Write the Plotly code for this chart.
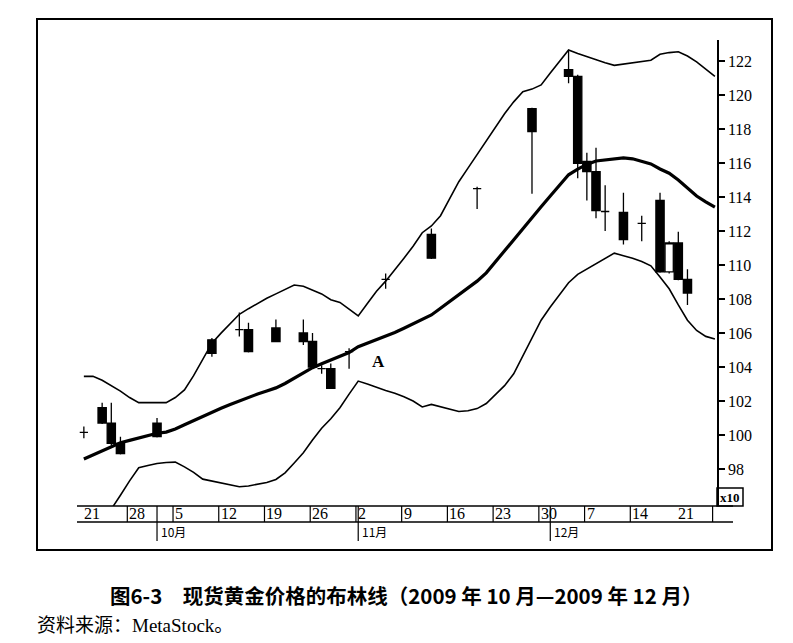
import plotly.graph_objects as go

# ---- data (trading-day index 0 = 2009-09-21) ----
days = list(range(70))

upper_band = [103.45, 103.45, 103.22, 102.9, 102.58, 102.2, 101.9, 101.9, 101.9, 101.9,
              102.2, 102.65, 103.49, 104.45, 105.4, 105.99, 106.55, 107.1, 107.43, 107.74,
              108.04, 108.3, 108.56, 108.82, 108.75, 108.53, 108.3, 107.96, 107.8, 107.4,
              107.0, 107.74, 108.46, 109.05, 109.7, 110.4, 111.1, 111.9, 112.3, 112.9,
              113.9, 114.9, 115.7, 116.5, 117.3, 118.1, 118.9, 119.6, 120.2, 120.35,
              120.6, 121.3, 122.0, 122.65, 122.45, 122.26, 122.07, 121.9, 121.75, 121.82,
              121.88, 121.95, 122.05, 122.4, 122.5, 122.55, 122.3, 121.95, 121.5, 121.1]

middle_band = [98.59, 98.83, 99.08, 99.32, 99.54, 99.68, 99.82, 99.96, 100.1, 100.17,
               100.35, 100.6, 100.85, 101.1, 101.35, 101.57, 101.79, 102.01, 102.23, 102.41,
               102.59, 102.77, 103.03, 103.35, 103.67, 103.96, 104.19, 104.42, 104.65, 104.85,
               105.19, 105.39, 105.6, 105.8, 106.03, 106.28, 106.53, 106.78, 107.06, 107.46,
               107.86, 108.25, 108.65, 109.05, 109.54, 110.2, 110.85, 111.5, 112.16, 112.8,
               113.43, 114.06, 114.68, 115.31, 115.64, 115.92, 116.12, 116.19, 116.26, 116.3,
               116.25, 116.1, 115.95, 115.65, 115.4, 115.0, 114.5, 114.06, 113.72, 113.4]

lower_band = [93.2, 94.0, 94.8, 95.65, 96.45, 97.3, 98.07, 98.2, 98.32, 98.38,
              98.4, 98.12, 97.8, 97.4, 97.28, 97.15, 97.03, 96.95, 97.0, 97.08,
              97.2, 97.38, 97.77, 98.35, 98.95, 99.7, 100.4, 100.95, 101.6, 102.4,
              103.17, 103.0, 102.8, 102.62, 102.45, 102.25, 102.0, 101.65, 101.8, 101.65,
              101.5, 101.38, 101.42, 101.55, 101.85, 102.4, 102.9, 103.6, 104.65, 105.7,
              106.75, 107.53, 108.25, 108.96, 109.45, 109.75, 110.05, 110.4, 110.7, 110.55,
              110.4, 110.2, 109.95, 109.3, 108.6, 107.65, 106.75, 106.15, 105.8, 105.65]

candle_day = [0, 2, 3, 4, 8, 14, 17, 18, 21, 24, 25, 26, 27, 29, 33, 38, 43, 49,
              53, 54, 55, 56, 57, 59, 61, 63, 64, 65, 66]
candle_open = [100.15, 101.6, 100.7, 99.5, 100.7, 105.6, 106.2, 106.2, 106.3, 106.0, 105.5, 103.9, 103.9, 104.9,
               109.16, 111.8, 114.5, 119.2, 121.5, 121.1, 116.1, 115.5, 113.15, 113.1, 112.45, 113.8, 109.6, 111.3, 109.15]
candle_high = [100.5, 101.9, 101.9, 99.9, 101.0, 105.7, 107.2, 106.6, 106.8, 106.8, 106.0, 104.1, 104.2, 105.1,
               109.5, 112.15, 114.6, 119.25, 122.65, 121.2, 116.6, 116.9, 114.7, 114.25, 112.9, 114.25, 111.4, 111.95, 109.75]
candle_low = [99.8, 100.65, 99.4, 98.85, 99.85, 104.6, 105.8, 104.85, 105.45, 105.3, 103.95, 103.6, 102.7, 103.9,
              108.6, 110.35, 113.3, 114.2, 120.7, 115.1, 113.8, 112.75, 112.0, 111.2, 111.4, 109.55, 109.5, 109.1, 107.65]
candle_close = [100.15, 100.7, 99.5, 98.9, 99.9, 104.8, 106.2, 104.9, 105.5, 105.5, 104.0, 103.9, 102.75, 104.9,
                109.16, 110.4, 114.5, 117.85, 121.1, 115.98, 115.5, 113.2, 113.15, 111.5, 112.45, 109.6, 111.3, 109.15, 108.35]

y_ticks = [98, 100, 102, 104, 106, 108, 110, 112, 114, 116, 118, 120, 122]
week_start_days = [0, 5, 10, 15, 20, 25, 30, 35, 40, 45, 50, 55, 60, 65]
week_labels = ["21", "28", "5", "12", "19", "26", "2", "9", "16", "23", "30", "7", "14", "21"]
week_sep_days = [5, 10, 15, 20, 25, 30, 35, 40, 45, 50, 55, 60, 69]
month_days = [8, 30, 51]
month_labels = ["10月", "11月", "12月"]

# ---- geometry helpers (page pixels; the page body adds an 8px offset) ----
OFF = 8
W, H = 793 - OFF, 643 - OFF
L, R, T, B = 77, 717, 40, 506   # plot edges in page pixels


def px(xp):
    return (xp - L) / (R - L)


def py(yp):
    return (B - yp) / (B - T)


fig = go.Figure()

for vals, w in [(upper_band, 1.6), (lower_band, 1.6), (middle_band, 3.2)]:
    fig.add_trace(go.Scatter(x=days, y=vals, mode="lines",
                             line=dict(color="black", width=w),
                             hoverinfo="skip", showlegend=False))

fig.add_trace(go.Candlestick(
    x=candle_day, open=candle_open, high=candle_high, low=candle_low, close=candle_close,
    increasing=dict(line=dict(color="black", width=1.3), fillcolor="white"),
    decreasing=dict(line=dict(color="black", width=1.3), fillcolor="black"),
    whiskerwidth=0, showlegend=False))

shapes = []
ann = []
# outer frame
shapes.append(dict(type="rect", xref="paper", yref="paper", x0=px(37), x1=px(772), y0=py(550), y1=py(19),
                   line=dict(color="black", width=2)))
# date band lines
for yy in (506, 522):
    shapes.append(dict(type="line", xref="paper", yref="paper", x0=0, x1=px(733), y0=py(yy), y1=py(yy),
                       line=dict(color="black", width=1.5)))
for d in week_sep_days:
    shapes.append(dict(type="line", xref="x", yref="paper", x0=d - 0.25, x1=d - 0.25, y0=py(506), y1=py(522),
                       line=dict(color="black", width=1.2)))
for d, lab in zip(week_start_days, week_labels):
    ann.append(dict(x=d - 0.25, y=py(514), xref="x", yref="paper", text=lab, showarrow=False,
                    xanchor="left", yanchor="middle", xshift=0,
                    font=dict(family="Liberation Sans Narrow", size=16, color="black")))
for d, lab in zip(month_days, month_labels):
    shapes.append(dict(type="line", xref="x", yref="paper", x0=d, x1=d, y0=py(506), y1=py(541),
                       line=dict(color="black", width=1.2)))
    ann.append(dict(x=d, y=py(531), xref="x", yref="paper", text=lab, showarrow=False,
                    xanchor="left", yanchor="middle", xshift=2,
                    font=dict(family="Noto Sans CJK SC", size=12, color="black")))
# x10 box
shapes.append(dict(type="rect", xref="paper", yref="paper", x0=px(717), x1=px(743), y0=py(506), y1=py(488),
                   line=dict(color="black", width=1.5)))
ann.append(dict(x=px(730), y=py(497), xref="paper", yref="paper", text="<b>x10</b>", showarrow=False,
                xanchor="center", yanchor="middle",
                font=dict(family="Liberation Sans Narrow", size=13, color="black")))
# label A
ann.append(dict(x=32.2, y=104.3, xref="x", yref="y", text="<b>A</b>", showarrow=False,
                xanchor="center", yanchor="middle",
                font=dict(family="Liberation Serif", size=17, color="black")))
# caption
ann.append(dict(x=px(406), y=py(595), xref="paper", yref="paper",
                text="<b>图6-3　现货黄金价格的布林线（2009 年 10 月—2009 年 12 月）</b>",
                showarrow=False, xanchor="center", yanchor="middle",
                font=dict(family="Noto Sans CJK SC", size=20.5, color="black")))
ann.append(dict(x=px(35), y=py(625), xref="paper", yref="paper",
                text="资料来源：<span style='font-family:Liberation Serif'>MetaStock</span>。",
                showarrow=False, xanchor="left", yanchor="middle",
                font=dict(family="Liberation Serif, Noto Sans CJK SC", size=19, color="black")))

fig.update_layout(
    width=W, height=H,
    margin=dict(l=L - OFF, r=W - (R - OFF), t=T - OFF, b=H - (B - OFF), pad=0),
    paper_bgcolor="white", plot_bgcolor="white",
    showlegend=False, boxgap=0.05, boxgroupgap=0.05,
    shapes=shapes, annotations=ann,
    xaxis=dict(range=[-0.75, 69.23], showgrid=False, zeroline=False, showticklabels=False,
               ticks="", showline=False, rangeslider=dict(visible=False), fixedrange=True),
    yaxis=dict(range=[95.82, 123.24], side="right", tickvals=y_ticks, ticks="outside",
               ticklen=6, tickwidth=1.5, tickcolor="black", showline=True, linecolor="black",
               linewidth=1.5, showgrid=False, zeroline=False,
               tickfont=dict(family="Liberation Sans Narrow", size=16, color="black")),
)

fig.write_html("out.html")
